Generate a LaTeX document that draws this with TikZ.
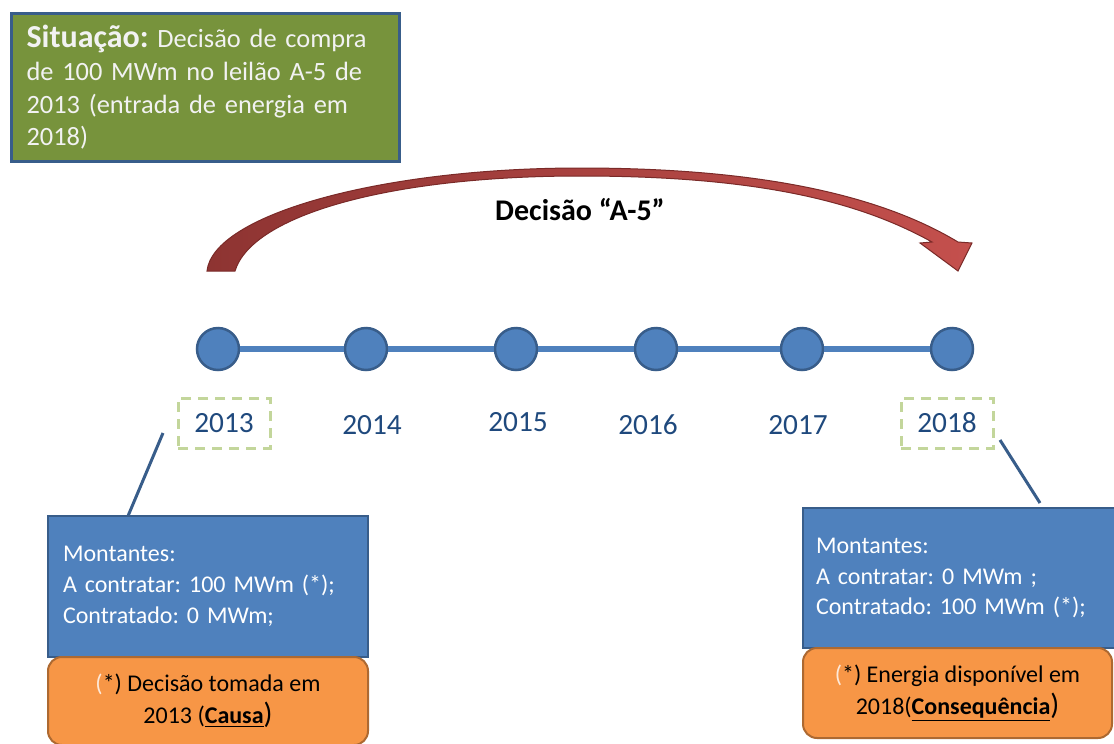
\documentclass[tikz,border=0pt]{standalone}
\usepackage{fontspec}
\setmainfont{Carlito}
\usetikzlibrary{calc}
\definecolor{sitgreen}{HTML}{77933C}
\definecolor{sittext}{HTML}{F2F2F2}
\definecolor{boxblue}{HTML}{4F81BD}
\definecolor{boxborder}{HTML}{385D8A}
\definecolor{notaorange}{HTML}{F79646}
\definecolor{notaborder}{HTML}{B66D31}
\definecolor{parenlight}{HTML}{FDE9D9}
\definecolor{yearblue}{HTML}{1F497D}
\definecolor{dashgreen}{HTML}{C3D69B}
\definecolor{arrowdark}{HTML}{8E3432}
\definecolor{arrowlight}{HTML}{C4504D}
\definecolor{arrowedge}{HTML}{7A2A28}
\frenchspacing

\begin{document}
\begin{tikzpicture}[x=0.75pt,y=-0.75pt,inner sep=0pt]
\def\u{0.75pt}
\tikzset{
  sitbox/.style={draw=boxborder,line width=3*\u,fill=sitgreen,text=sittext,
    minimum width=388*\u,minimum height=148*\u,text width=358*\u,inner xsep=15*\u,
    align=left,font=\fontsize{19.8}{24.5}\selectfont},
  montbox/.style={draw=boxborder,line width=2*\u,fill=boxblue,text=white,
    minimum height=141*\u,align=left,font=\fontsize{18}{23.2}\selectfont},
  notabox/.style={draw=notaorange!70!black,line width=2*\u,fill=notaorange,text=black,
    rounded corners=14*\u,align=center,font=\fontsize{18}{24}\selectfont},
  dot/.style={circle,fill=boxblue,draw=boxborder,line width=2.5*\u,minimum size=42*\u},
  tline/.style={draw=boxblue,line width=6*\u},
  yearlbl/.style={text=yearblue,font=\fontsize{22}{26}\selectfont},
  yearframe/.style={draw=dashgreen,line width=3*\u,dash pattern=on 10*\u off 7*\u,
    minimum width=92*\u,minimum height=50*\u},
  link/.style={draw=boxborder,line width=3*\u},
  arrowfill/.style={left color=arrowdark,right color=arrowlight,draw=arrowedge,line width=1*\u},
  declbl/.style={font=\bfseries\fontsize{22.5}{26}\selectfont}
}
\useasboundingbox (0,0) rectangle (1114,743);

\node[sitbox,anchor=north west] (sit) at (10,12)
  {{\fontsize{24}{24.5}\selectfont\textbf{Situação:}} Decisão de compra\\de 100 MWm no leilão A-5 de\\2013 (entrada de energia em\\2018)};

\shadedraw[arrowfill] (207,271) .. controls (213,215) and (380,168) .. (580,168)
  .. controls (760,168) and (880,195) .. (958,242)
  -- (972,243) -- (958,271) -- (920,243) -- (932,242)
  .. controls (860,202) and (760,176) .. (580,176)
  .. controls (390,176) and (252,215) .. (235,271) -- cycle;
\node[declbl] (dec) at (580,210) {Decisão “A-5”};

\foreach \x [count=\i] in {218,366,516,656,802,952}
  \node[dot] (t\i) at (\x,349) {};
\foreach \i [evaluate=\i as \j using int(\i+1)] in {1,...,5}
  \draw[tline] (t\i) -- (t\j);

\node[yearlbl,yearframe] (y13) at (224,423) {2013};
\node[yearlbl] (y14) at (372,425) {2014};
\node[yearlbl] (y15) at (518,422) {2015};
\node[yearlbl] (y16) at (648,425) {2016};
\node[yearlbl] (y17) at (798,425) {2017};
\node[yearlbl,yearframe] (y18) at (947,423) {2018};

\node[montbox,minimum width=320*\u,text width=290*\u] (m13) at (208,586.5)
  {Montantes:\\A contratar: 100 MWm (*);\\Contratado: 0 MWm;};
\node[montbox,minimum width=315*\u,text width=289*\u,minimum height=140*\u] (m18) at (960.5,578)
  {Montantes:\\A contratar: 0 MWm ;\\Contratado: 100 MWm (*);};

\node[notabox,minimum width=320*\u,minimum height=88*\u] (n13) at (208,701)
  {{\color{parenlight}(}*) Decisão tomada em\\2013 (\underline{\textbf{Causa}}{\fontsize{22}{24}\selectfont)}};
\node[notabox,minimum width=309*\u,minimum height=90*\u] (n18) at (957.5,693)
  {{\color{parenlight}(}*) Energia disponível em\\2018(\underline{\textbf{Consequência}}{\fontsize{22}{24}\selectfont)}};

\coordinate (a13) at (163,433);
\coordinate (b13) at (128,516);
\draw[link] (a13) -- (b13);
\coordinate (a18) at (1000,440);
\coordinate (b18) at (1040,503);
\draw[link] (a18) -- (b18);
\end{tikzpicture}
\end{document}
